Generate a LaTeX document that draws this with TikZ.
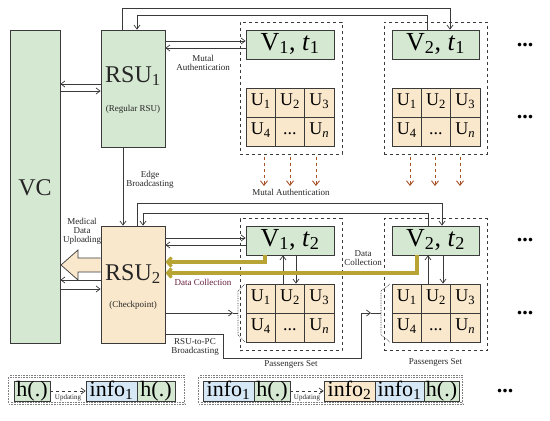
\documentclass[tikz,border=0pt]{standalone}
\usepackage{fontspec}
\setmainfont{Liberation Serif}
\usetikzlibrary{arrows.meta,backgrounds}
\definecolor{gfill}{RGB}{213,232,210}
\definecolor{ofill}{RGB}{250,232,204}
\definecolor{bfill}{RGB}{214,232,246}
\definecolor{lnc}{RGB}{58,58,58}
\definecolor{olv}{RGB}{184,164,52}
\definecolor{brn}{RGB}{168,82,40}
\definecolor{dcol}{RGB}{100,30,62}
\newcommand\fs[1]{\fontsize{#1}{#1}\selectfont}
\newcommand\UGrid[3]{%
  \node[cell] (#1-1) at (#2+14.65,#3+14.5) {U\textsubscript{1}};
  \node[cell] (#1-2) at (#2+43.95,#3+14.5) {U\textsubscript{2}};
  \node[cell] (#1-3) at (#2+73.25,#3+14.5) {U\textsubscript{3}};
  \node[cell] (#1-4) at (#2+14.65,#3+43.5) {U\textsubscript{4}};
  \node[cell] (#1-5) at (#2+43.95,#3+43.5) {...};
  \node[cell] (#1-6) at (#2+73.25,#3+43.5) {U\textsubscript{\textit{n}}};
}
\begin{document}
\begin{tikzpicture}[x=1pt,y=-1pt,
  bx/.style={draw=lnc, line width=0.8pt, inner sep=0pt, rectangle},
  gbox/.style={bx, fill=gfill},
  obox/.style={bx, fill=ofill},
  bbox/.style={bx, fill=bfill},
  vbox/.style={gbox, minimum width=88, text height=20pt, text depth=9pt, font=\fs{26}},
  cell/.style={obox, minimum width=29.3, text height=17.5pt, text depth=11.5pt, font=\fs{18}},
  sbox/.style={bx, text height=15pt, text depth=5pt, font=\fs{22}},
  grp/.style={draw=lnc, dashed, line width=0.7pt, rectangle, inner sep=0pt},
  outerb/.style={draw=gray, densely dotted, double, double distance=1pt, line width=0.6pt, rectangle, inner sep=0pt},
  lbl/.style={inner sep=0pt, font=\fs{9}, align=center, text=black!85},
  conn/.style={draw=lnc, line width=0.7pt, -{Straight Barb[length=4pt,width=6pt]}},
  plainln/.style={draw=lnc, line width=0.7pt},
  brnarr/.style={draw=brn, dashed, line width=0.9pt, -{Straight Barb[length=4.5pt,width=7pt]}},
  olvarr/.style={draw=olv, line width=3.2pt, -{Straight Barb[length=4pt,width=9pt]}},
  brk/.style={draw=lnc, densely dotted, line width=0.7pt},
  dots/.style={inner sep=0pt, font=\fs{22}\bfseries}
]
\useasboundingbox (0,0) rectangle (550,421);

% group frames
\node[grp, minimum width=102, minimum height=132] (grpA) at (291,88) {};
\node[grp, minimum width=103, minimum height=132] (grpB) at (435.5,88) {};
\node[grp, minimum width=102, minimum height=132] (grpC) at (291,284.5) {};
\node[grp, minimum width=103, minimum height=132] (grpD) at (435.5,284.5) {};

% VC and RSUs
\node[gbox, minimum width=50, minimum height=313] (vc) at (35,186.5) {};
\node[lbl, font=\fs{24}, anchor=base] (vct) at (35,195) {VC};
\node[gbox, minimum width=64, minimum height=117] (rsuA) at (133,88.5) {};
\node[lbl, font=\fs{24}, anchor=base] (rsuAt) at (133,82) {RSU\textsubscript{1}};
\node[lbl, anchor=base] (rsuAs) at (133,111) {(Regular RSU)};
\node[obox, minimum width=64, minimum height=117] (rsuB) at (133,284.5) {};
\node[lbl, font=\fs{24}, anchor=base] (rsuBt) at (133,280) {RSU\textsubscript{2}};
\node[lbl, anchor=base] (rsuBs) at (133,307) {(Checkpoint)};

% vehicles
\node[vbox] (vAa) at (290,44.5) {V\textsubscript{1}, \textit{t}\textsubscript{1}};
\node[vbox, minimum width=87] (vBa) at (435.5,44.5) {V\textsubscript{2}, \textit{t}\textsubscript{1}};
\node[vbox] (vAb) at (290,240.5) {V\textsubscript{1}, \textit{t}\textsubscript{2}};
\node[vbox, minimum width=87] (vBb) at (435.5,240.5) {V\textsubscript{2}, \textit{t}\textsubscript{2}};

% passenger grids
\UGrid{ga}{246}{88}
\UGrid{gb}{392}{88}
\UGrid{gc}{246}{284}
\UGrid{gd}{392}{284}

% ellipses
\node[dots] (d1) at (525,45) {...};
\node[dots] (d2) at (525,117) {...};
\node[dots] (d3) at (525,240) {...};
\node[dots] (d4) at (525,313) {...};
\node[dots] (d5) at (505,391) {...};

% labels
\node[lbl] (lmA) at (203,63) {Mutal\\Authentication};
\node[lbl] (lmB) at (291,192) {Mutal Authentication};
\node[lbl] (leb) at (150,180) {Edge\\Broadcasting};
\node[lbl] (lmd) at (82,231) {Medical\\Data\\Uploading};
\node[lbl, text=dcol] (ldc) at (203,282) {Data Collection};
\node[lbl] (ldc2) at (363,258) {Data\\Collection};
\node[lbl] (lrp) at (195,347) {RSU-to-PC\\Broadcasting};
\node[lbl] (lpA) at (291,364) {Passengers Set};
\node[lbl] (lpB) at (435.5,362) {Passengers Set};

% top loops t1
\draw[conn] (122,0 |- rsuA.north) -- (122,8) -- (450,8) -- (450,0 |- vBa.north);
\draw[conn] (427,0 |- vBa.north) -- (427,15) -- (137,15) -- (137,0 |- rsuA.north);
% RSU1 <-> V1,t1
\draw[conn] (rsuA.east |- 0,41) -- (vAa.west |- 0,41);
\draw[conn] (vAa.west |- 0,48) -- (rsuA.east |- 0,48);
% VC <-> RSU1
\draw[conn] (rsuA.west |- 0,84) -- (vc.east |- 0,84);
\draw[conn] (vc.east |- 0,91) -- (rsuA.west |- 0,91);
% edge broadcasting
\draw[conn] (123,0 |- rsuA.south) -- (123,0 |- rsuB.north);
% mutual authentication arrows
\foreach \xx in {264,290,316,410,435,460}
  \draw[brnarr] (\xx,157) -- (\xx,186);

% top loops t2
\draw[conn] (137,0 |- rsuB.north) -- (137,203) -- (442,203) -- (442,0 |- vBb.north);
\draw[conn] (428,0 |- vBb.north) -- (428,213) -- (143,213) -- (143,0 |- rsuB.north);
% RSU2 <-> V1,t2
\draw[conn] (rsuB.east |- 0,238) -- (vAb.west |- 0,238);
\draw[conn] (vAb.west |- 0,245) -- (rsuB.east |- 0,245);
% VC <-> RSU2
\draw[conn] (rsuB.west |- 0,280) -- (vc.east |- 0,280);
\draw[conn] (vc.east |- 0,289) -- (rsuB.west |- 0,289);
% medical data uploading
\begin{scope}[on background layer]
\draw[plainln, fill=ofill] (rsuB.west |- 0,258) -- (78,258) -- (78,250) -- (61,265) -- (78,280) -- (78,272) -- (rsuB.west |- 0,272);
\end{scope}
% V <-> U
\draw[conn] (283,0 |- gc-2.north) -- (283,0 |- vAb.south);
\draw[conn] (296,0 |- vAb.south) -- (296,0 |- gc-2.north);
\draw[conn] (428,0 |- gd-2.north) -- (428,0 |- vBb.south);
\draw[conn] (443,0 |- vBb.south) -- (443,0 |- gd-2.north);

% brackets
\coordinate (brA) at (238,313);
\coordinate (brB) at (381,313);
\draw[brk] (245,284) -- (238,291) -- (brA) -- (238,335) -- (245,342);
\draw[brk] (390,284) -- (381,291) -- (brB) -- (381,335) -- (390,342);
\draw[conn] (rsuB.east |- brA) -- (233,313);
\draw[plainln] (233,313) -- (brA);
\draw[plainln] (rsuB.east |- 0,334) -- (223,334) -- (223,358) -- (361,358) -- (361,313);
\draw[conn] (361,313) -- (371,313);
\draw[plainln] (371,313) -- (brB);

% data collection
\draw[olvarr] (265,0 |- vAb.south) -- (265,262) -- (rsuB.east |- 0,262);
\draw[olvarr] (417,0 |- vBb.south) -- (417,273) -- (rsuB.east |- 0,273);

% bottom chains
\node[outerb, minimum width=176, minimum height=27] (obA) at (97,390) {};
\node[outerb, minimum width=264, minimum height=27] (obB) at (331,390) {};
\node[sbox, fill=gfill, minimum width=36] (hA) at (32,391) {h(.)};
\node[sbox, fill=bfill, minimum width=51] (iA) at (111.5,391) {info\textsubscript{1}};
\node[sbox, fill=gfill, minimum width=38] (hB) at (156,391) {h(.)};
\node[sbox, fill=bfill, minimum width=51] (iB) at (228.5,391) {info\textsubscript{1}};
\node[sbox, fill=gfill, minimum width=36] (hC) at (272,391) {h(.)};
\node[sbox, fill=ofill, minimum width=51] (iC) at (349.5,391) {info\textsubscript{2}};
\node[sbox, fill=bfill, minimum width=49] (iD) at (399.5,391) {info\textsubscript{1}};
\node[sbox, fill=gfill, minimum width=35] (hD) at (441.5,391) {h(.)};
\draw[conn, dashed] (hA.east) -- (iA.west);
\draw[conn, dashed] (hC.east) -- (iC.west);
\node[lbl, font=\fs{7}] (uA) at (68,398) {Updating};
\node[lbl, font=\fs{7}] (uB) at (307,398) {Updating};
\end{tikzpicture}
\end{document}
